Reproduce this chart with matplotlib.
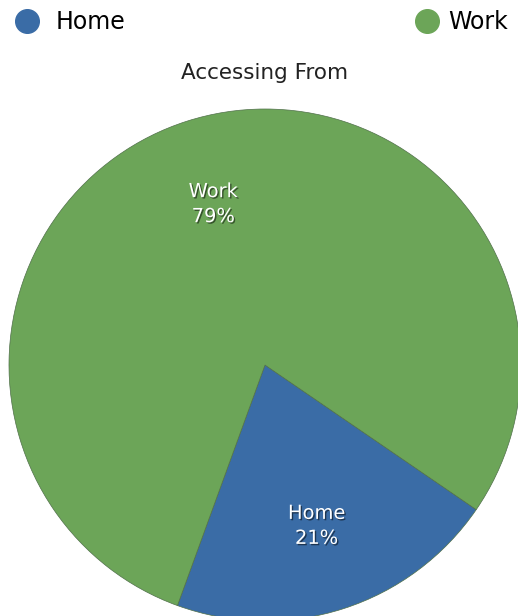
import matplotlib
matplotlib.use("Agg")
import matplotlib.pyplot as plt
import matplotlib.patheffects as pe
from matplotlib.lines import Line2D
import numpy as np

labels = ["Home", "Work"]
shares = [21, 79]
colors = ["#3a6ca6", "#6ca558"]
title = "Accessing From"

fig = plt.figure(figsize=(5.18, 6.16), dpi=100)
# pie centre ~ (265, 365) px from top, radius ~256 px
r_px = 256
ax = fig.add_axes([(265 - r_px) / 518, (616 - 365 - r_px) / 616, 2 * r_px / 518, 2 * r_px / 616])

wedges, texts = ax.pie(shares, colors=colors, startangle=-110, counterclock=True,
                       wedgeprops=dict(edgecolor="#50704a", linewidth=0.5))
ax.set_xlim(-1, 1)
ax.set_ylim(-1, 1)
ax.set_aspect("equal")
ax.axis("off")

# labels inside wedges
for w, lab, s in zip(wedges, labels, shares):
    mid = np.deg2rad((w.theta1 + w.theta2) / 2)
    x, y = 0.66 * np.cos(mid), 0.66 * np.sin(mid)
    ax.text(x, y, "%s\n%d%%" % (lab, s), ha="center", va="center", color="white",
            fontsize=14, linespacing=1.4,
            path_effects=[pe.withSimplePatchShadow(offset=(1, -1), shadow_rgbFace="black", alpha=0.5)])

fig.text(265 / 518, 1 - 73 / 616, title, ha="center", va="center", fontsize=15.5, color="#222222")

# legend: one entry at the left, one at the right
handles = [Line2D([], [], marker="o", linestyle="", markersize=17, color=c) for c in colors]
fig.legend(handles[:1], labels[:1], loc="center left", bbox_to_anchor=(15 / 518, 1 - 22 / 616),
           frameon=False, fontsize=17, handletextpad=0.7, borderaxespad=0, borderpad=0,
           handlelength=1.0)
fig.legend(handles[1:], labels[1:], loc="center left", bbox_to_anchor=(415 / 518, 1 - 22 / 616),
           frameon=False, fontsize=17, handletextpad=0.4, borderaxespad=0, borderpad=0,
           handlelength=1.0)

fig.savefig("out.png", dpi=100)
